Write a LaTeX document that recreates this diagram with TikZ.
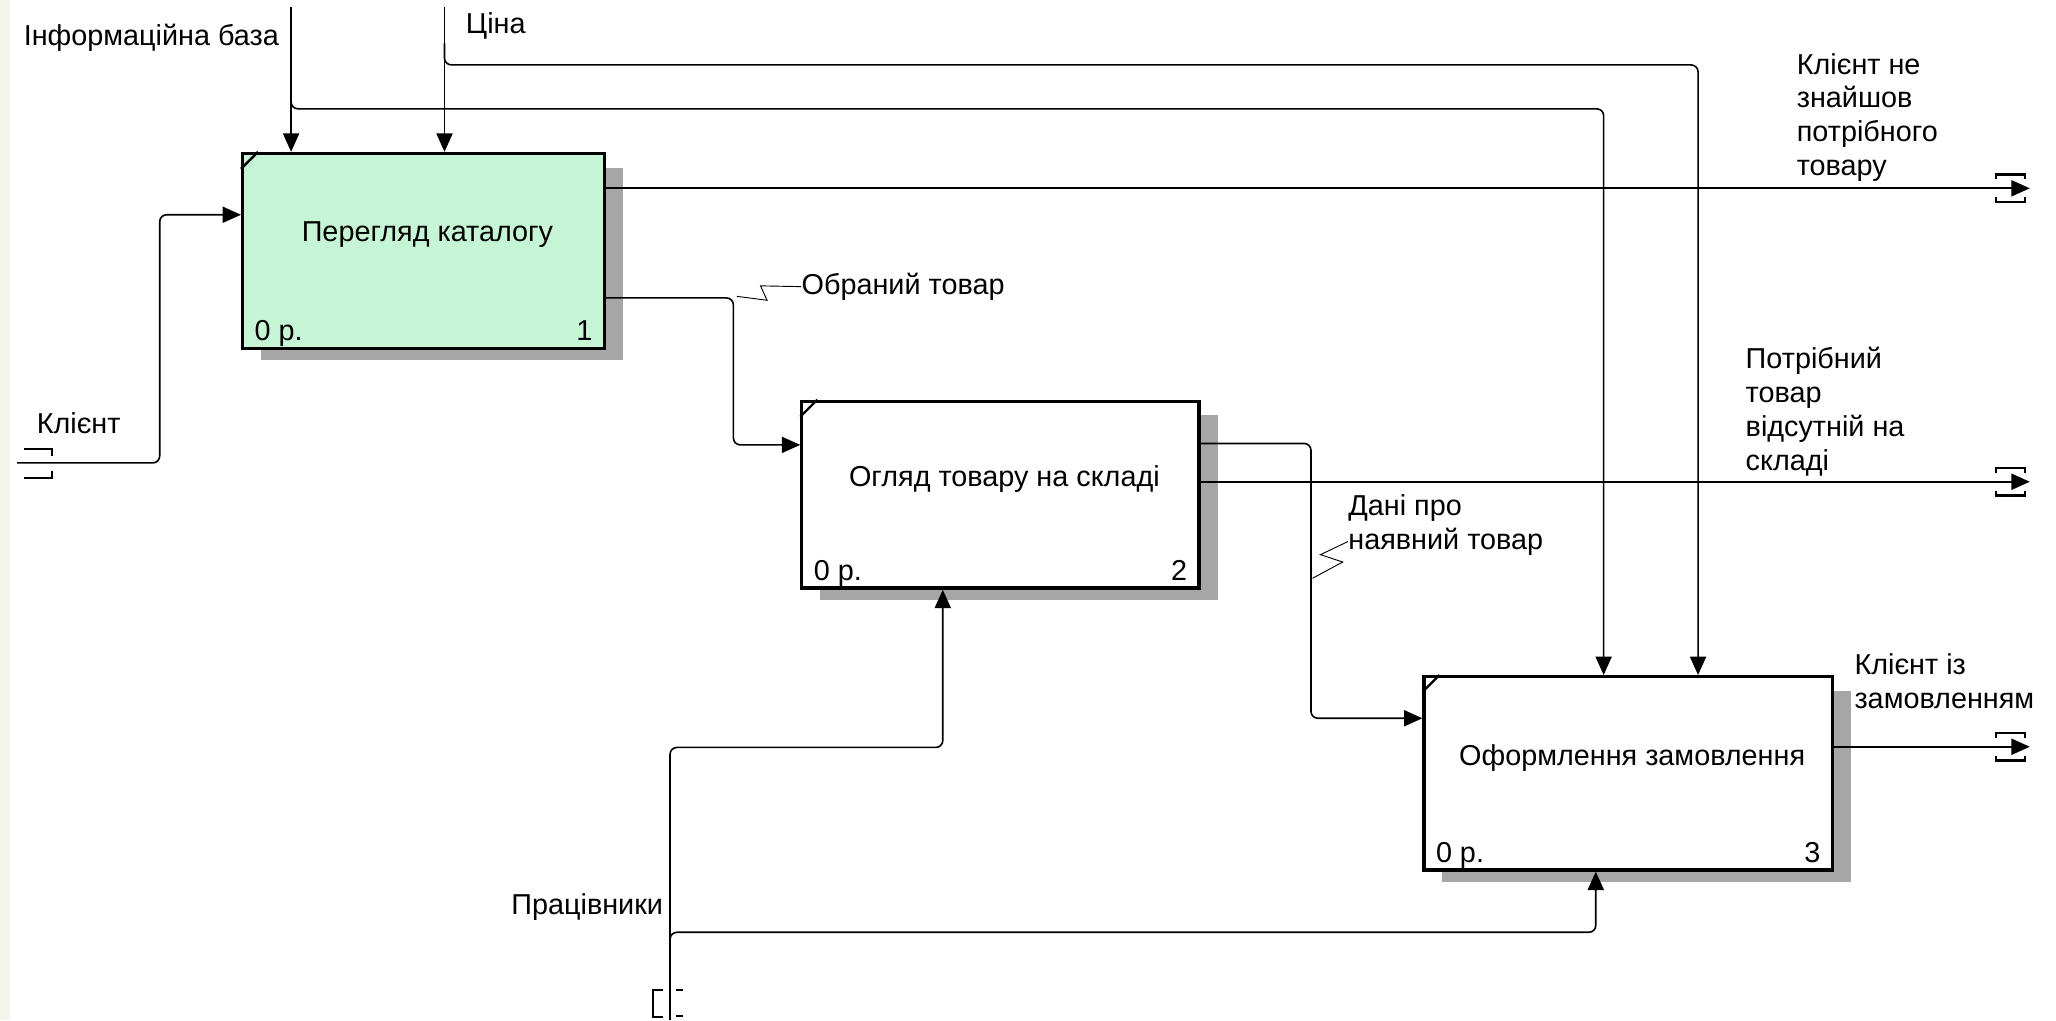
\documentclass[tikz,border=0pt]{standalone}
\usepackage{fontspec}
\setmainfont{Liberation Sans}
\usepackage{tikz}
\usetikzlibrary{arrows.meta,calc,backgrounds}
\usetikzlibrary{positioning}
\definecolor{boxgreen}{RGB}{198,245,214}
\definecolor{stripgray}{RGB}{243,245,236}
\tikzset{
    func/.style={
           rectangle,
           draw=black, line width=1.4pt,
           inner sep=0pt,
           fill=white,
           },
    flow/.style={
           draw=black, line width=0.7pt,
           rounded corners=3pt,
           -{Triangle[length=8pt,width=7pt]},
           },
    squiggle/.style={draw=black, line width=0.4pt},
    tunnel/.style={draw=black, line width=0.9pt},
    lbl/.style={inner sep=0pt, align=left, font=\fontsize{12.5}{14.7}\selectfont},
    shade/.style={fill=black!35},
}

\begin{document}
\begin{tikzpicture}[x=0.02cm,y=-0.02cm]
\useasboundingbox (0,0) rectangle (1568,778);
% function boxes
\node[func, fill=boxgreen, minimum width=5.52cm, minimum height=2.97cm] (b1) at (323,191.25) {};
\node[func, minimum width=6.06cm, minimum height=2.85cm] (b2) at (763,377.25) {};
\node[func, minimum width=6.23cm, minimum height=2.95cm] (b3) at (1241.75,589.75) {};
\begin{scope}[on background layer]
\fill[white] (0,0) rectangle (1568,778);
\fill[stripgray] (0,0) rectangle (8,778);
\foreach \b in {b1,b2,b3}
  \fill[shade] ($(\b.north west)+(15,12)$) rectangle ($(\b.south east)+(13,8)$);
\end{scope}
\foreach \b in {b1,b2,b3}
  \draw[line width=1pt] ($(\b.north west)+(0,13)$) -- ($(\b.north west)+(13,0)$);

\node[lbl] (t1) at ($(b1.center)+(3,-12)$) {Перегляд каталогу};
\node[lbl, anchor=base west] (n1) at ($(b1.south west)+(10,-7)$) {0 р.};
\node[lbl, anchor=base east] (k1) at ($(b1.south east)+(-10,-7)$) {1};
\node[lbl] (t2) at ($(b2.center)+(3,-12)$) {Огляд товару на складі};
\node[lbl, anchor=base west] (n2) at ($(b2.south west)+(10,-7)$) {0 р.};
\node[lbl, anchor=base east] (k2) at ($(b2.south east)+(-10,-7)$) {2};
\node[lbl] (t3) at ($(b3.center)+(3,-12)$) {Оформлення замовлення};
\node[lbl, anchor=base west] (n3) at ($(b3.south west)+(10,-7)$) {0 р.};
\node[lbl, anchor=base east] (k3) at ($(b3.south east)+(-10,-7)$) {3};

% controls from the top
\coordinate (infoTop) at (222,5);
\coordinate (priceTop) at (339,5);
\coordinate (infoTurn) at (1223,83);
\coordinate (priceTurn) at (1295,49.5);
\draw[flow] (infoTop) -- (infoTop |- b1.north);
\draw[flow] (priceTop) -- (priceTop |- b1.north);
\draw[flow] ($(infoTop)+(0,60)$) |- (infoTurn) -- (infoTurn |- b3.north);
\draw[flow] ($(priceTop)+(0,28)$) |- (priceTurn) -- (priceTurn |- b3.north);
\node[lbl, anchor=east] (info) at (213,29) {Інформаційна база};
\node[lbl, anchor=west] (price) at (355,20) {Ціна};

% input
\coordinate (clientIn) at (13,353);
\coordinate (b1in) at ($(b1.north west)+(0,48)$);
\draw[flow] (clientIn) -| ($(b1in)+(-62,0)$) -- (b1in);
\node[lbl] (client) at (60,323) {Клієнт};
\draw[tunnel] ($(clientIn)+(5,-10.5)$) -- ++(22,0) -- ++(0,5);
\draw[tunnel] ($(clientIn)+(5,11.5)$) -- ++(22,0) -- ++(0,-5);

% outputs
\coordinate (nfEnd) at (1548,143.6);
\coordinate (absentEnd) at (1548,367.4);
\coordinate (orderEnd) at (1548,569.5);
\draw[flow] (nfEnd -| b1.east) -- (nfEnd);
\draw[flow] (absentEnd -| b2.east) -- (absentEnd);
\draw[flow] (orderEnd -| b3.east) -- (orderEnd);
\foreach \e in {nfEnd,absentEnd,orderEnd} {
  \draw[tunnel] ($(\e)+(-26,-7)$) -- ++(0,-3.5) -- ++(22,0) -- ++(0,3.5);
  \draw[tunnel] ($(\e)+(-26,7)$) -- ++(0,3.5) -- ++(22,0) -- ++(0,-3.5);
}
\node[lbl, anchor=west] (nf) at (1370,89.5) {Клієнт не\\знайшов\\потрібного\\товару};
\node[lbl, anchor=west] (absent) at (1331,314) {Потрібний\\товар\\відсутній на\\складі};
\node[lbl, anchor=west] (withorder) at (1414,519.3) {Клієнт із\\замовленням};

% box to box
\coordinate (b1out) at ($(b1.south east)+(0,-39.5)$);
\coordinate (b2in) at ($(b2.north west)+(0,34.5)$);
\draw[flow] (b1out) -| ($(b2in)+(-51,0)$) -- (b2in);
\coordinate (b2out) at ($(b2.north east)+(0,33.4)$);
\coordinate (b3in) at ($(b3.north west)+(0,33)$);
\draw[flow] (b2out) -| ($(b3in)+(-85,0)$) -- (b3in);
\node[lbl, anchor=west] (chosen) at (611,218.6) {Обраний товар};
\node[lbl, anchor=west] (stock) at (1028,400.3) {Дані про\\наявний товар};
\coordinate (chosenFoot) at (562,226);
\coordinate (stockFoot) at (1001,441);
\draw[squiggle] (chosenFoot) -- (585,229) -- (580,218) -- (chosen.west);
\draw[squiggle] (stockFoot) -- (1024,428.6) -- (1007,423) -- ($(stock.west)+(0,12.7)$);

% mechanism from the bottom
\coordinate (staffIn) at (511,778);
\coordinate (staffTurn) at (719,570);
\coordinate (staffTurn2) at (1217,711);
\draw[flow] (staffIn) |- (staffTurn) -- (staffTurn |- b2.south);
\draw[flow] ($(staffIn)+(0,-45)$) |- (staffTurn2) -- (staffTurn2 |- b3.south);
\node[lbl, anchor=east] (staff) at (506,692) {Працівники};
\draw[tunnel] ($(staffIn)+(-5,-23)$) -- ++(-8,0) -- ++(0,20.5) -- ++(8,0);
\draw[tunnel] ($(staffIn)+(4.5,-23)$) -- ++(5.5,0);
\draw[tunnel] ($(staffIn)+(4.5,-3)$) -- ++(5.5,0);
\end{tikzpicture}
\end{document}
